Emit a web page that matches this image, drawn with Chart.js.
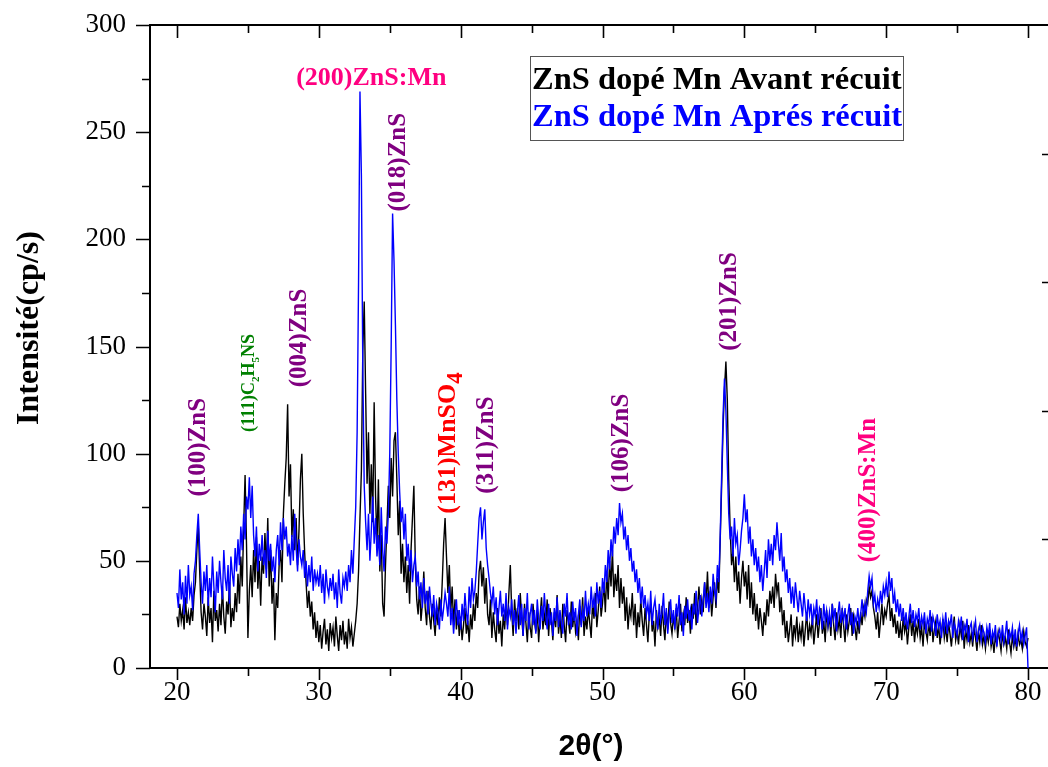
<!DOCTYPE html>
<html>
<head>
<meta charset="utf-8">
<title>DRX ZnS dopé Mn</title>
<script src="https://cdn.jsdelivr.net/npm/chart.js@4.4.0/dist/chart.umd.min.js"></script>
<style>
  html, body { margin: 0; padding: 0; background: #fff; }
  canvas { display: block; }
</style>
</head>
<body>
<canvas id="xrdChart" width="1048" height="767"></canvas>
<script>
// 2theta grid: 20.0 -> 80.0, step 0.1 deg
const thetaStart = 20;
const thetaStep = 0.1;

// ZnS dope Mn, avant recuit (one row = one degree)
const avantRecuit = [
  24,19,30,22,27,18,33,21,26,20,
  28,22,34,40,55,67,45,26,18,30,
  24,15,33,21,28,12,36,22,27,17,
  30,20,38,24,16,31,25,40,19,28,
  22,35,26,44,30,52,38,66,90,58,
  14,36,48,33,55,40,61,37,50,29,
  52,44,63,46,70,38,55,30,42,13,
  35,28,48,55,40,72,86,98,123,80,
  95,61,74,55,70,48,64,88,100,72,
  54,40,28,36,24,31,18,26,14,22,
  12,20,9,17,23,11,18,8,21,14,
  19,10,24,15,8,20,13,22,11,17,
  9,23,14,19,10,16,22,30,45,70,
  92,148,171,128,86,110,72,95,68,124,
  80,58,88,45,62,30,24,48,66,85,
  70,98,80,106,110,88,62,78,44,58,
  40,52,35,48,30,55,70,85,50,32,
  25,38,22,30,45,28,20,36,24,18,
  30,22,15,28,20,33,24,40,58,70,
  52,35,48,26,38,20,32,18,27,15,
  24,13,20,28,16,22,12,25,18,30,
  22,35,28,45,50,38,47,30,42,25,
  20,32,14,26,18,12,28,16,22,10,
  25,18,30,20,35,48,26,15,32,22,
  28,18,35,24,15,30,21,12,26,19,
  14,30,22,17,27,12,24,33,18,25,
  20,32,15,28,22,13,26,19,34,16,
  24,14,30,20,12,27,22,16,31,19,
  26,17,22,13,29,20,33,15,24,18,
  28,21,14,31,23,35,19,27,38,24,
  30,40,26,45,32,50,38,55,33,44,
  36,48,28,42,30,38,22,33,18,28,
  24,35,20,30,14,26,19,32,22,15,
  28,20,12,25,30,17,22,10,27,19,
  23,15,29,20,13,26,18,31,21,16,
  24,19,28,14,22,30,17,25,20,33,
  21,27,16,30,23,35,20,28,38,25,
  32,26,40,30,45,28,36,24,33,40,
  28,42,35,60,85,112,130,143,125,88,
  65,48,55,40,52,36,45,30,42,50,
  38,45,32,48,28,40,25,35,22,30,
  18,28,22,15,26,20,32,24,36,30,
  38,28,44,35,40,26,33,20,27,14,
  22,12,18,25,10,20,15,24,12,19,
  14,22,10,18,26,13,20,16,24,11,
  18,25,14,21,28,16,22,12,27,19,
  24,15,30,20,13,26,18,23,14,28,
  20,12,25,17,22,28,15,24,19,13,
  22,16,26,20,28,24,32,30,38,33,
  36,28,24,18,26,14,22,30,20,27,
  24,30,34,22,28,19,25,16,22,14,
  20,13,24,17,21,11,19,25,15,22,
  12,20,16,23,14,19,10,22,17,13,
  21,15,24,12,18,22,14,20,11,17,
  23,14,19,12,21,16,10,18,24,13,
  17,11,20,15,22,9,18,13,20,12,
  16,10,19,14,8,17,12,20,11,15,
  9,16,12,18,10,14,7,15,11,17,
  13,8,16,11,14,9,18,12,7,15,
  10,14,8,16,11,13,9,17,12,10,
  14
];

// ZnS dope Mn, apres recuit
const apresRecuit = [
  35,28,46,32,40,25,43,30,48,34,
  38,27,44,50,62,72,55,40,30,45,
  36,48,29,42,33,52,38,26,45,35,
  50,40,32,55,42,36,48,30,52,44,
  38,56,45,60,48,66,55,72,60,80,
  74,89,70,85,62,52,66,45,58,50,
  62,48,55,42,64,50,58,45,52,40,
  55,62,48,68,55,70,60,66,52,58,
  48,62,50,72,56,45,60,52,48,55,
  42,50,38,48,40,52,36,46,40,44,
  38,48,35,44,30,46,38,34,42,36,
  44,32,40,28,46,35,30,42,38,45,
  36,48,40,55,44,60,75,110,180,269,
  230,140,85,68,55,72,50,64,80,58,
  70,52,62,48,75,55,45,66,58,72,
  100,150,212,190,160,125,100,82,68,75,
  60,72,50,58,45,55,40,48,52,38,
  45,32,40,28,42,30,36,25,38,30,
  24,34,20,30,26,18,32,22,28,35,
  30,24,38,20,28,16,25,32,20,27,
  18,30,22,35,26,20,38,28,42,32,
  36,45,58,70,75,60,68,74,56,48,
  42,35,30,38,25,33,20,28,36,24,
  30,22,35,18,28,24,32,20,27,16,
  26,34,20,30,15,28,22,35,18,25,
  30,20,27,16,32,23,18,29,22,35,
  24,18,30,20,26,15,28,22,33,19,
  27,21,16,30,24,35,20,26,18,31,
  22,28,15,25,32,19,27,22,36,24,
  30,25,38,28,33,24,40,30,36,28,
  42,35,48,40,55,46,60,52,66,58,
  70,62,77,68,72,60,66,55,62,50,
  56,45,50,40,46,35,42,30,38,28,
  34,25,30,22,36,20,28,32,24,18,
  30,22,26,35,20,28,16,25,32,21,
  27,18,30,24,34,20,26,15,29,23,
  32,22,27,18,30,25,36,21,28,34,
  24,32,40,28,35,26,38,30,44,36,
  32,48,40,62,90,118,135,120,95,72,
  60,66,52,70,58,62,48,55,64,70,
  81,68,74,58,66,52,60,48,56,45,
  52,40,48,36,45,55,42,60,50,58,
  48,62,55,68,58,50,63,45,52,40,
  46,35,42,30,38,28,40,33,26,36,
  30,24,35,28,22,32,25,30,20,28,
  24,32,20,28,26,18,30,22,27,20,
  26,19,30,23,28,17,25,31,21,27,
  22,28,18,25,30,20,26,16,24,21,
  28,20,25,32,24,30,26,36,43,38,
  42,30,34,26,32,28,36,30,38,34,
  40,33,45,36,42,30,35,26,32,24,
  30,22,28,20,26,18,24,30,21,27,
  19,25,22,28,18,24,20,26,16,23,
  20,27,17,24,21,15,25,19,22,14,
  23,18,26,16,22,20,25,14,21,18,
  15,22,18,24,13,20,17,23,12,19,
  21,14,18,22,12,17,20,13,19,16,
  12,19,15,21,11,17,14,20,10,16,
  18,13,20,12,16,22,11,17,14,19,
  12,18,10,16,20,13,17,11,15,19,
  0
];

const twoTheta = avantRecuit.map((_, i) => +(thetaStart + i * thetaStep).toFixed(1));

const xTicks = [20, 30, 40, 50, 60, 70, 80];
const xMinor = [25, 35, 45, 55, 65, 75];
const yTicks = [0, 50, 100, 150, 200, 250, 300];
const yMinor = [25, 75, 125, 175, 225, 275];
const rightTicks = [60, 120, 180, 240];

// peak labels ("_x" = subscript)
const peakTags = [
  { text: '(100)ZnS',      at: [21.4, 103],  color: '#800080', size: 25, vertical: true },
  { text: '(111)C_2H_5NS', at: [25.0, 133],  color: '#008000', size: 18, vertical: true, sub: 0.6 },
  { text: '(004)ZnS',      at: [28.5, 154],  color: '#800080', size: 25, vertical: true },
  { text: '(200)ZnS:Mn',   at: [33.7, 276],  color: '#FF0080', size: 26, vertical: false },
  { text: '(018)ZnS',      at: [35.5, 236],  color: '#800080', size: 25, vertical: true },
  { text: '(131)MnSO_4',   at: [39.0, 105],  color: '#FF0000', size: 26, vertical: true, sub: 0.9 },
  { text: '(311)ZnS',      at: [41.7, 104],  color: '#800080', size: 25, vertical: true },
  { text: '(106)ZnS',      at: [51.25, 105], color: '#800080', size: 25, vertical: true },
  { text: '(201)ZnS',      at: [58.8, 171],  color: '#800080', size: 25, vertical: true },
  { text: '(400)ZnS:Mn',   at: [68.65, 83],  color: '#FF0080', size: 25, vertical: true }
];

const serif = '"Liberation Serif", "Times New Roman", serif';

function drawTag(ctx, tag, px, py) {
  const segs = [];
  const s = tag.text;
  for (let i = 0; i < s.length; i++) {
    if (s[i] === '_') { segs.push({ t: s[i + 1], sub: true }); i++; }
    else if (segs.length && !segs[segs.length - 1].sub) segs[segs.length - 1].t += s[i];
    else segs.push({ t: s[i], sub: false });
  }
  const fMain = 'bold ' + tag.size + 'px ' + serif;
  const fSub = 'bold ' + Math.round(tag.size * (tag.sub || 0.6)) + 'px ' + serif;
  let total = 0;
  segs.forEach(g => { ctx.font = g.sub ? fSub : fMain; g.w = ctx.measureText(g.t).width; total += g.w; });
  ctx.save();
  ctx.translate(px, py);
  if (tag.vertical) ctx.rotate(-Math.PI / 2);
  ctx.fillStyle = tag.color;
  ctx.textBaseline = 'alphabetic';
  ctx.textAlign = 'left';
  let cx = -total / 2;
  const base = tag.size * 0.33;
  segs.forEach(g => {
    ctx.font = g.sub ? fSub : fMain;
    ctx.fillText(g.t, cx, base + (g.sub ? tag.size * 0.28 : 0));
    cx += g.w;
  });
  ctx.restore();
}

const decorPlugin = {
  id: 'decor',
  afterDraw(chart) {
    const ctx = chart.ctx;
    const xs = chart.scales.x, ys = chart.scales.y;
    const a = chart.chartArea;
    ctx.save();
    ctx.strokeStyle = '#000';
    ctx.lineWidth = 2;
    // top frame line
    ctx.beginPath();
    ctx.moveTo(a.left - 1, a.top);
    ctx.lineTo(chart.width, a.top);
    ctx.stroke();
    ctx.lineWidth = 1.6;
    ctx.beginPath();
    xTicks.forEach(v => {
      const p = Math.round(xs.getPixelForValue(v)) + 0.5;
      ctx.moveTo(p, a.bottom); ctx.lineTo(p, a.bottom + 12);
      ctx.moveTo(p, a.top); ctx.lineTo(p, a.top + 13);
    });
    xMinor.forEach(v => {
      const p = Math.round(xs.getPixelForValue(v)) + 0.5;
      ctx.moveTo(p, a.bottom); ctx.lineTo(p, a.bottom + 8);
      ctx.moveTo(p, a.top); ctx.lineTo(p, a.top + 8);
    });
    yTicks.forEach(v => {
      const p = Math.round(ys.getPixelForValue(v)) + 0.5;
      ctx.moveTo(a.left, p); ctx.lineTo(a.left - 14, p);
    });
    yMinor.forEach(v => {
      const p = Math.round(ys.getPixelForValue(v)) + 0.5;
      ctx.moveTo(a.left, p); ctx.lineTo(a.left - 8, p);
    });
    rightTicks.forEach(v => {
      const p = Math.round(ys.getPixelForValue(v)) + 0.5;
      ctx.moveTo(chart.width, p); ctx.lineTo(chart.width - 6, p);
    });
    ctx.stroke();

    // peak labels
    peakTags.forEach(tag => {
      drawTag(ctx, tag, xs.getPixelForValue(tag.at[0]), ys.getPixelForValue(tag.at[1]));
    });

    // legend box
    ctx.lineWidth = 1;
    ctx.strokeStyle = '#555';
    ctx.strokeRect(530.5, 56.5, 373, 84);
    ctx.font = 'bold 32.5px ' + serif;
    ctx.textAlign = 'left';
    ctx.textBaseline = 'alphabetic';
    chart.data.datasets.slice().sort((p, q) => q.order - p.order).forEach((ds, i) => {
      ctx.fillStyle = ds.borderColor;
      ctx.fillText(ds.label, 532, 89 + i * 37);
    });

    // axis titles
    ctx.fillStyle = '#000';
    ctx.font = 'bold 30px "Liberation Sans", Arial, sans-serif';
    ctx.textAlign = 'center';
    ctx.textBaseline = 'middle';
    ctx.fillText('2θ(°)', 591, 747);
    ctx.save();
    ctx.translate(30, 328);
    ctx.rotate(-Math.PI / 2);
    ctx.font = 'bold 32px ' + serif;
    ctx.fillText('Intensité(cp/s)', 0, 0);
    ctx.restore();
    ctx.restore();
  }
};

new Chart(document.getElementById('xrdChart'), {
  type: 'line',
  data: {
    datasets: [
      {
        label: 'ZnS dopé Mn Avant récuit',
        data: twoTheta.map((x, i) => ({ x: x, y: avantRecuit[i] })),
        borderColor: '#000000',
        borderWidth: 1.4,
        order: 1
      },
      {
        label: 'ZnS dopé Mn Aprés récuit',
        data: twoTheta.map((x, i) => ({ x: x, y: apresRecuit[i] })),
        borderColor: '#0000FF',
        borderWidth: 1.4,
        order: 0
      }
    ]
  },
  options: {
    responsive: false,
    animation: false,
    devicePixelRatio: 1,
    layout: { padding: { top: 25, right: 0, left: 0, bottom: 0 } },
    elements: { point: { radius: 0 }, line: { tension: 0 } },
    plugins: { legend: { display: false }, tooltip: { enabled: false } },
    scales: {
      x: {
        type: 'linear',
        min: 18.096,
        max: 81.41,
        grid: { display: false, drawTicks: false },
        border: { display: true, color: '#000', width: 2 },
        ticks: { color: '#000', padding: 9, font: { family: serif, size: 27 } },
        afterBuildTicks: s => { s.ticks = xTicks.map(v => ({ value: v })); },
        afterFit: s => { s.height = 99; s.paddingLeft = 0; s.paddingRight = 0; }
      },
      y: {
        min: 0,
        max: 300,
        grid: { display: false, drawTicks: false },
        border: { display: true, color: '#000', width: 2 },
        ticks: { color: '#000', padding: 24, font: { family: serif, size: 27 } },
        afterBuildTicks: s => { s.ticks = yTicks.map(v => ({ value: v })); },
        afterFit: s => { s.width = 150; s.paddingTop = 0; s.paddingBottom = 0; }
      }
    }
  },
  plugins: [decorPlugin]
});
</script>
</body>
</html>
